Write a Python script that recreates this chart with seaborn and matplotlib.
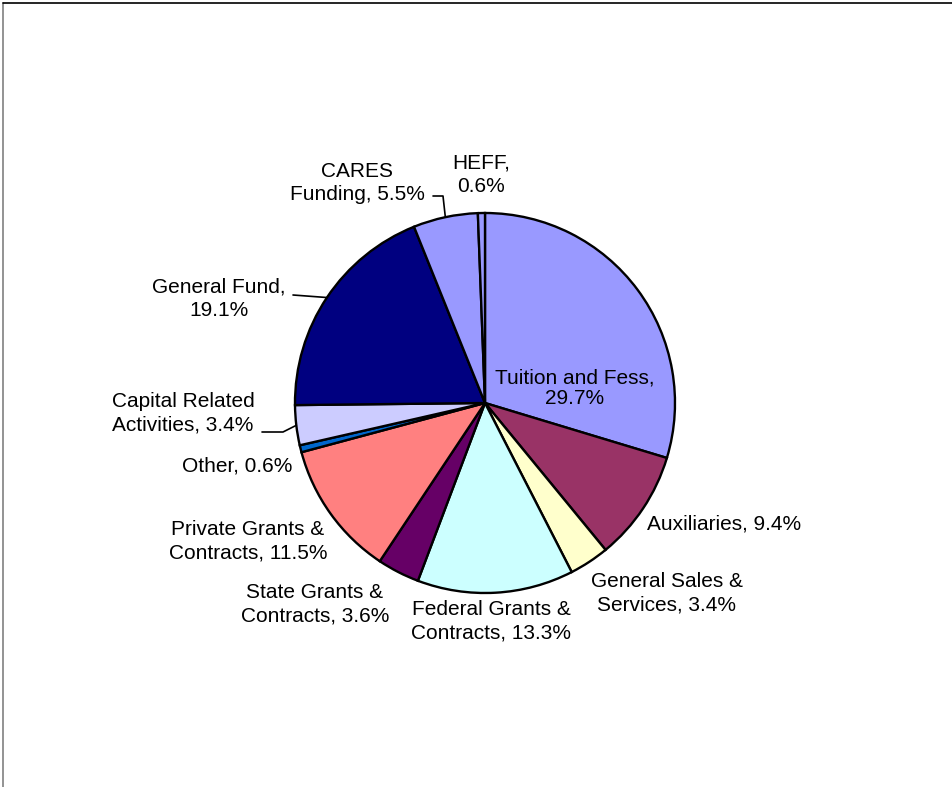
import numpy as np
import matplotlib
matplotlib.use("Agg")
import matplotlib.pyplot as plt
import seaborn as sns
from matplotlib.lines import Line2D

# revenue sources, clockwise from 12 o'clock
categories = ["Tuition and Fess", "Auxiliaries", "General Sales &\nServices",
              "Federal Grants &\nContracts", "State Grants &\nContracts",
              "Private Grants &\nContracts", "Other", "Capital Related\nActivities",
              "General Fund", "CARES\nFunding", "HEFF"]
shares = [29.7, 9.4, 3.4, 13.3, 3.6, 11.5, 0.6, 3.4, 19.1, 5.5, 0.6]
colors = ["#9999FF", "#993366", "#FFFFCC", "#CCFFFF", "#660066", "#FF8080",
          "#0066CC", "#CCCCFF", "#000080", "#9999FF", "#9999FF"]

# label text built from the data; break after comma where the original does
label_fmt = ["{},\n{}%", "{}, {}%", "{}, {}%", "{}, {}%", "{}, {}%", "{}, {}%",
             "{}, {}%", "{}, {}%", "{},\n{}%", "{}, {}%", "{},\n{}%"]

W, H = 953, 787
sns.set_theme(style="white")
plt.rcParams["font.family"] = ["Liberation Sans", "DejaVu Sans"]

fig = plt.figure(figsize=(W / 100, H / 100), dpi=100)
ax = fig.add_axes([0, 0, 1, 1])

cx, cy, R = 485, H - 403, 190
wedges, _ = ax.pie(shares, colors=colors, startangle=90, counterclock=False,
                   center=(cx, cy), radius=R, frame=True,
                   wedgeprops=dict(edgecolor="black", linewidth=1.7))
ax.set_xlim(0, W)
ax.set_ylim(0, H)
ax.set_aspect("equal")
ax.axis("off")

# label positions (pixels from top-left) and optional leader elbows
label_pos = [(575, 388), (724, 524), (667, 593), (491, 621), (315, 604),
             (248, 541), (237, 466), (183, 413), (219, 299), (357, 183), (481, 175)]
leaders = {7: [(262, 432), (283, 432)], 8: [(293, 295)], 9: [(433, 196), (443, 196)]}

for i, (w, cat, val) in enumerate(zip(wedges, categories, shares)):
    txt = label_fmt[i].format(cat, val)
    x, y = label_pos[i]
    ls = 1.1 if i == 0 else 1.32
    ax.text(x, H - y, txt, ha="center", va="center", fontsize=15, color="black",
            linespacing=ls)
    if i in leaders:
        mid = np.deg2rad((w.theta1 + w.theta2) / 2)
        ex, ey = cx + R * np.cos(mid), cy + R * np.sin(mid)
        xs = [p[0] for p in leaders[i]] + [ex]
        ys = [H - p[1] for p in leaders[i]] + [ey]
        ax.plot(xs, ys, color="black", lw=1.2)

# chart-area frame (cropped on the right and bottom)
fig.add_artist(Line2D([3 / W, 3 / W], [0, 1 - 3 / H], transform=fig.transFigure,
                      color="#808080", lw=1.2))
fig.add_artist(Line2D([3 / W, 1], [1 - 3 / H, 1 - 3 / H], transform=fig.transFigure,
                      color="black", lw=1.2))

fig.savefig("out.png", dpi=100)
